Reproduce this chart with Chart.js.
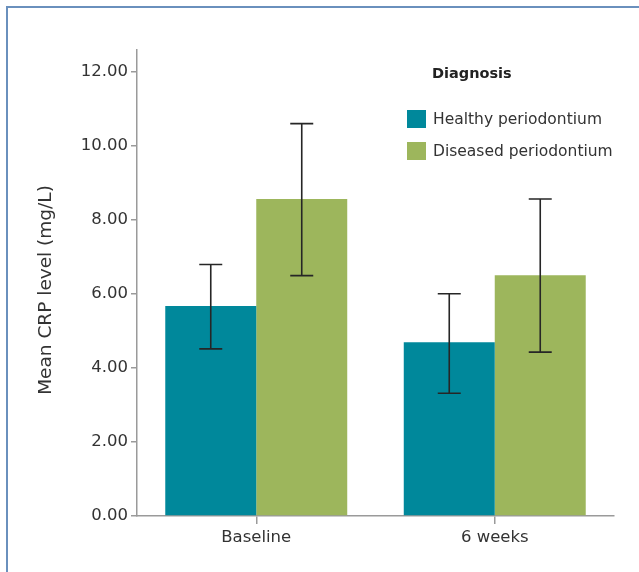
<!DOCTYPE html>
<html><head><meta charset="utf-8">
<script src="https://cdn.jsdelivr.net/npm/chart.js@4"></script>
<style>
html,body{margin:0;padding:0;background:#fff;}
#wrap{position:relative;width:639px;height:572px;overflow:hidden;}
#frame{position:absolute;left:6px;top:6px;width:700px;height:700px;border-left:2px solid #6a90bd;border-top:2px solid #6a90bd;pointer-events:none;}
canvas{position:absolute;left:0;top:0;}
</style></head><body>
<div id="wrap"><canvas id="c" width="639" height="572"></canvas><div id="frame"></div></div>
<script>
const categories = ['Baseline', '6 weeks'];
const seriesNames = ['Healthy periodontium', 'Diseased periodontium'];
const healthyMean = [5.68, 4.70];
const healthyLow = [4.52, 3.32];
const healthyHigh = [6.80, 6.01];
const diseasedMean = [8.57, 6.51];
const diseasedLow = [6.50, 4.43];
const diseasedHigh = [10.61, 8.57];
const yTickValues = [0, 2, 4, 6, 8, 10, 12];
const legendTitle = 'Diagnosis';
const yTitle = 'Mean CRP level (mg/L)';

const COLORS = ['#00889b', '#9db65c'];
const FONT = 'DejaVu Sans';
const TEXT = '#333333';
const AXIS = '#9a9a9a';

const errorBars = {
  id: 'errorBars',
  afterDatasetsDraw(chart) {
    const ctx = chart.ctx;
    const y = chart.scales.y;
    ctx.save();
    ctx.strokeStyle = '#262626';
    ctx.lineWidth = 1.6;
    chart.data.datasets.forEach((ds, di) => {
      const meta = chart.getDatasetMeta(di);
      meta.data.forEach((bar, i) => {
        const x = bar.x;
        const yh = y.getPixelForValue(ds.errHigh[i]);
        const yl = y.getPixelForValue(ds.errLow[i]);
        const cap = 11.5;
        ctx.beginPath();
        ctx.moveTo(x, yh); ctx.lineTo(x, yl);
        ctx.moveTo(x - cap, yh); ctx.lineTo(x + cap, yh);
        ctx.moveTo(x - cap, yl); ctx.lineTo(x + cap, yl);
        ctx.stroke();
      });
    });
    ctx.restore();
  }
};

const customText = {
  id: 'customText',
  afterDraw(chart) {
    const ctx = chart.ctx;
    ctx.save();
    // y axis title
    ctx.fillStyle = TEXT;
    ctx.font = '18.5px "' + FONT + '"';
    ctx.textAlign = 'center';
    ctx.textBaseline = 'middle';
    ctx.translate(46, 290);
    ctx.rotate(-Math.PI / 2);
    ctx.fillText(yTitle, 0, 0);
    ctx.restore();

    ctx.save();
    ctx.fillStyle = '#222';
    ctx.font = 'bold 14.5px "' + FONT + '"';
    ctx.textBaseline = 'alphabetic';
    ctx.textAlign = 'left';
    ctx.fillText(legendTitle, 432, 78);
    chart.data.datasets.forEach((ds, i) => {
      const top = 110 + i * 32;
      ctx.fillStyle = ds.backgroundColor;
      ctx.fillRect(407, top, 19, 18);
      ctx.fillStyle = TEXT;
      ctx.font = '15.5px "' + FONT + '"';
      ctx.textBaseline = 'middle';
      ctx.fillText(ds.label, 433, top + 10);
    });
    ctx.restore();
  }
};

new Chart(document.getElementById('c'), {
  type: 'bar',
  data: {
    labels: categories,
    datasets: [
      { label: seriesNames[0], data: healthyMean, errLow: healthyLow, errHigh: healthyHigh,
        backgroundColor: COLORS[0], borderWidth: 0, barPercentage: 1, categoryPercentage: 0.763 },
      { label: seriesNames[1], data: diseasedMean, errLow: diseasedLow, errHigh: diseasedHigh,
        backgroundColor: COLORS[1], borderWidth: 0, barPercentage: 1, categoryPercentage: 0.763 }
    ]
  },
  options: {
    responsive: false,
    animation: false,
    layout: { padding: { left: 0, top: 50, right: 25, bottom: 16 } },
    plugins: { legend: { display: false }, tooltip: { enabled: false } },
    scales: {
      x: {
        type: 'category',
        offset: true,
        grid: { offset: false, drawOnChartArea: false, drawTicks: true, tickLength: 8, color: AXIS, lineWidth: 1.5 },
        border: { color: AXIS, width: 1.5 },
        ticks: { color: TEXT, font: { family: FONT, size: 16.5 }, padding: 4 },
        afterFit(s) { s.height = 40; }
      },
      y: {
        min: 0, max: 12.6,
        afterBuildTicks(s) { s.ticks = yTickValues.map(v => ({ value: v })); },
        grid: { drawOnChartArea: false, drawTicks: true, tickLength: 6, color: AXIS, lineWidth: 1.5 },
        border: { color: AXIS, width: 1.5 },
        ticks: { color: TEXT, font: { family: FONT, size: 16.5 }, padding: 3, callback: v => Number(v).toFixed(2) },
        title: { display: false },
        afterFit(s) { s.width = 137; }
      }
    }
  },
  plugins: [errorBars, customText]
});
</script>
</body></html>
